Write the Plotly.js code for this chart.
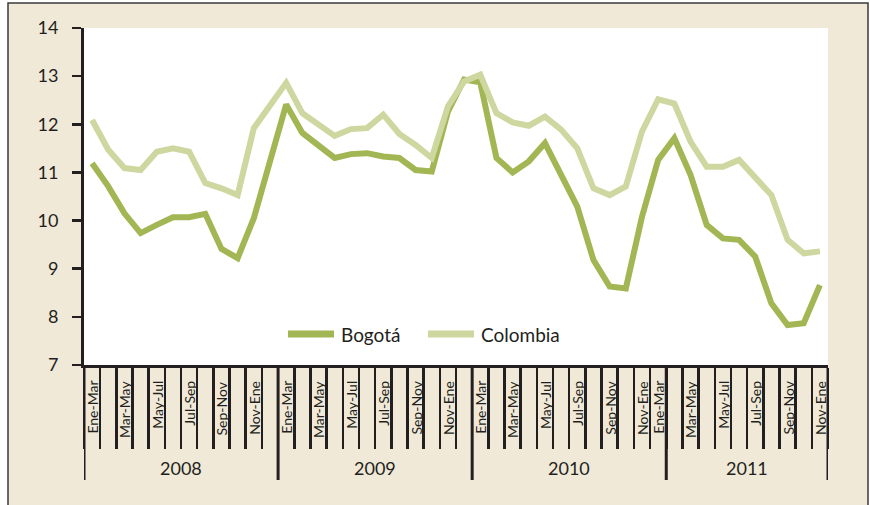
<!DOCTYPE html>
<html>
<head>
<meta charset="utf-8">
<script src="https://cdn.plot.ly/plotly-3.0.1.min.js"></script>
<style>html,body{margin:0;padding:0;background:#fff;}#chart{width:870px;height:505px;}</style>
</head>
<body>
<div id="chart"></div>
<script>
// ---- data ----
const years = ['2008', '2009', '2010', '2011'];
const yearCounts = [12, 12, 12, 10];
const periodLabels = [
  'Ene-Mar','','Mar-May','','May-Jul','','Jul-Sep','','Sep-Nov','','Nov-Ene','',
  'Ene-Mar','','Mar-May','','May-Jul','','Jul-Sep','','Sep-Nov','','Nov-Ene','',
  'Ene-Mar','','Mar-May','','May-Jul','','Jul-Sep','','Sep-Nov','','Nov-Ene','Ene-Mar',
  '','Mar-May','','May-Jul','','Jul-Sep','','Sep-Nov','','Nov-Ene'
];
const seriesNames = ['Bogotá', 'Colombia'];
const bogota = [
  11.19, 10.71, 10.15, 9.74, 9.91, 10.07, 10.07, 10.14, 9.41, 9.22, 10.05, 11.2,
  12.41, 11.82, 11.57, 11.30, 11.38, 11.40, 11.33, 11.30, 11.05, 11.02, 12.26, 12.93,
  12.87, 11.30, 11.00, 11.23, 11.61, 10.95, 10.29, 9.18, 8.63, 8.59, 10.08, 11.26,
  11.71, 10.95, 9.91, 9.63, 9.60, 9.25, 8.28, 7.83, 7.87, 8.66
];
const colombia = [
  12.09, 11.47, 11.09, 11.05, 11.43, 11.50, 11.43, 10.78, 10.67, 10.53, 11.92, 12.41,
  12.86, 12.23, 11.99, 11.76, 11.90, 11.92, 12.20, 11.80, 11.57, 11.30, 12.37, 12.89,
  13.03, 12.23, 12.04, 11.97, 12.16, 11.89, 11.50, 10.67, 10.53, 10.71, 11.85, 12.52,
  12.43, 11.64, 11.12, 11.12, 11.26, 10.88, 10.53, 9.60, 9.32, 9.36
];

// ---- build ----
const n = bogota.length;
const xs = bogota.map((_, i) => i);
const ink = '#231F20';
const colors = ['#A2B653', '#CDD79F'];
const FONT = 'Lato, "Open Sans", sans-serif';
const W = 870, H = 505, ML = 84, MR = 42, MT = 28, MB = 140;
const PW = W - ML - MR, PH = H - MT - MB;
const px2x = p => (p - ML) / PW;
const py2y = p => (H - MB - p) / PH;

const boundaries = [];
for (let i = 0; i <= n; i++) boundaries.push(i - 0.5);

const shapes = [
  {type: 'rect', xref: 'paper', yref: 'paper', layer: 'below',
   x0: px2x(8), x1: px2x(868), y0: py2y(520), y1: py2y(3),
   fillcolor: '#F0E9D8', line: {color: '#3a3a3a', width: 1.5}},
  {type: 'rect', xref: 'paper', yref: 'paper', layer: 'below',
   x0: 0, x1: 1, y0: 0, y1: 1, fillcolor: '#FFFFFF', line: {width: 0}}
];
const annotations = [];
let start = 0;
const yearDiv = py2y(480);
shapes.push({type: 'line', xref: 'x', yref: 'paper', x0: -0.5, x1: -0.5, y0: 0, y1: yearDiv,
  line: {color: ink, width: 3}});
years.forEach((yr, k) => {
  const end = start + yearCounts[k];
  shapes.push({type: 'line', xref: 'x', yref: 'paper', x0: end - 0.5, x1: end - 0.5, y0: 0, y1: yearDiv,
    line: {color: ink, width: 3}});
  annotations.push({xref: 'x', yref: 'paper', x: (start + end - 1) / 2, y: py2y(468),
    text: yr, showarrow: false, xanchor: 'center', yanchor: 'middle',
    font: {family: FONT, size: 18, color: ink}});
  start = end;
});
periodLabels.forEach((lab, i) => {
  if (!lab) return;
  annotations.push({xref: 'x', yref: 'paper', x: i, y: py2y(379), text: lab,
    textangle: -90, showarrow: false, xanchor: 'center', yanchor: 'top',
    font: {family: FONT, size: 14, color: ink}});
});

// legend drawn as line samples + text
const legX = [288, 428], legY = 334;
seriesNames.forEach((nm, k) => {
  shapes.push({type: 'line', xref: 'paper', yref: 'paper',
    x0: px2x(legX[k]), x1: px2x(legX[k] + 46), y0: py2y(legY), y1: py2y(legY),
    line: {color: colors[k], width: 7}});
  annotations.push({xref: 'paper', yref: 'paper', x: px2x(legX[k] + 51), y: py2y(legY),
    text: nm, showarrow: false, xanchor: 'left', yanchor: 'middle',
    font: {family: FONT, size: 19, color: ink}});
});

const traces = [
  {type: 'scatter', mode: 'lines', name: seriesNames[0], x: xs, y: bogota,
   line: {color: colors[0], width: 6}},
  {type: 'scatter', mode: 'lines', name: seriesNames[1], x: xs, y: colombia,
   line: {color: colors[1], width: 6}}
];

const layout = {
  width: W, height: H,
  margin: {l: ML, r: MR, t: MT, b: MB, pad: 0},
  paper_bgcolor: '#FFFFFF',
  plot_bgcolor: 'rgba(0,0,0,0)',
  font: {family: FONT, color: ink},
  showlegend: false,
  xaxis: {
    type: 'linear', range: [-0.5, n - 0.5],
    tickmode: 'array', tickvals: boundaries, ticktext: boundaries.map(() => ''),
    ticks: 'outside', ticklen: 81, tickwidth: 2.5, tickcolor: ink,
    showline: true, linecolor: ink, linewidth: 3,
    showgrid: false, zeroline: false, fixedrange: true
  },
  yaxis: {
    range: [7, 14], dtick: 1, tick0: 7,
    ticks: 'outside', ticklen: 9, tickwidth: 2.5, tickcolor: ink,
    showline: true, linecolor: ink, linewidth: 3,
    showgrid: false, zeroline: false,
    tickfont: {family: FONT, size: 18, color: ink},
    ticklabelstandoff: 10
  },
  shapes: shapes,
  annotations: annotations
};

Plotly.newPlot('chart', traces, layout, {displayModeBar: false, staticPlot: true});
</script>
</body>
</html>
